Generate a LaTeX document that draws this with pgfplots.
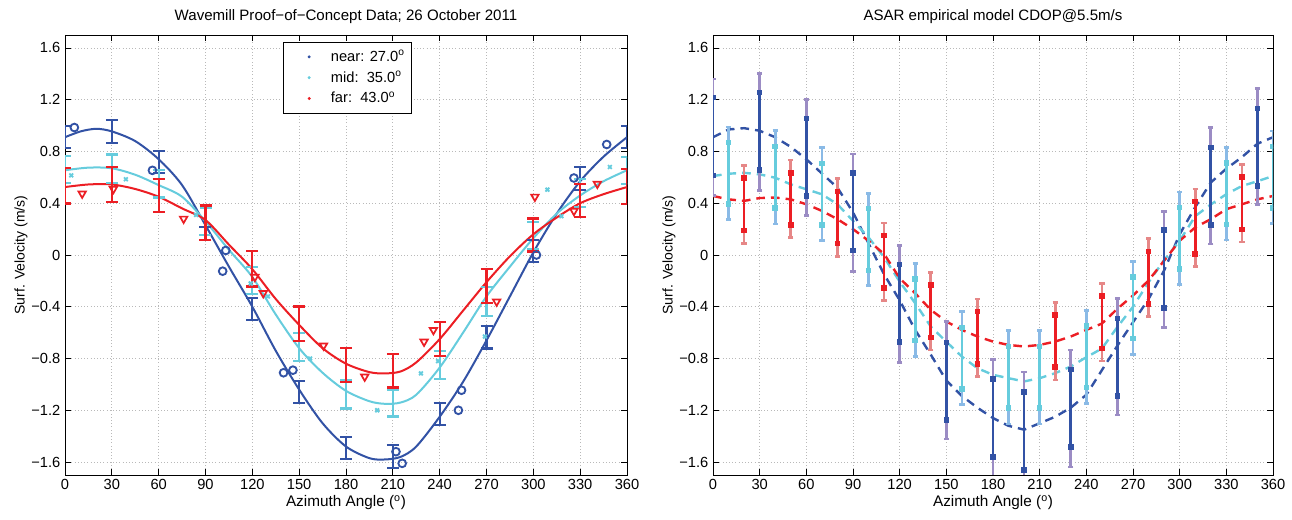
\documentclass[border=0pt]{standalone}
\usepackage{fontspec}
\setmainfont{Liberation Sans}
\usepackage{pgfplots}
\pgfplotsset{compat=1.18}
\definecolor{cnear}{RGB}{50,82,165}
\definecolor{cmid}{RGB}{102,204,221}
\definecolor{cfar}{RGB}{236,30,36}
\definecolor{cnearo}{RGB}{155,140,196}
\definecolor{cmido}{RGB}{138,186,230}
\definecolor{cfaro}{RGB}{230,135,135}
\definecolor{gridc}{RGB}{185,185,185}

\pgfplotsset{
  mat/.style={
    scale only axis, height=330pt,
    xmin=0, xmax=360, ymin=-1.7, ymax=1.7,
    xtick={0,30,...,360},
    ytick={-1.6,-1.2,-0.8,-0.4,0,0.4,0.8,1.2,1.6},
    yticklabels={−1.6,−1.2,−0.8,−0.4,0,0.4,0.8,1.2,1.6},
    xticklabel style={/pgf/number format/assume math mode=true},
    tick label style={font=\fontsize{11}{13}\selectfont},
    tick align=inside, major tick length=4.5pt,
    tick style={black, line width=0.6pt},
    axis line style={black, line width=0.7pt},
    grid=major, major grid style={gridc, dotted, line width=0.6pt},
    xlabel={Azimuth Angle (\textsuperscript{o})},
    ylabel={Surf. Velocity (m/s)},
    xlabel style={font=\fontsize{11.5}{13}\selectfont, yshift=3pt},
    ylabel style={font=\fontsize{10.5}{12}\selectfont, yshift=-4pt},
    title style={font=\fontsize{11.3}{13}\selectfont, yshift=-1pt},
    clip=true,
  },
  ebar/.style n args={4}{draw=none, mark=none, forget plot,
    error bars/.cd, y dir=both, y explicit, error mark=#2,
    error mark options={draw=#1, fill=#1, line width=#4, mark size=#3, rotate=90},
    error bar style={draw=#1, line width=#4, solid}},
}

\begin{document}
\begin{tikzpicture}
\useasboundingbox (0,0) rectangle (969pt,390pt);

% ---------------- Left panel ----------------
\begin{axis}[mat, width=421.5pt, at={(48.75pt,33.75pt)}, anchor=south west,
  title={Wavemill Proof−of−Concept Data; 26 October 2011},
  legend style={at={(0.388,0.984)}, anchor=north west, draw=black, line width=0.6pt,
    fill=white, font=\fontsize{11}{13}\selectfont, row sep=2pt,
    inner xsep=3pt, inner ysep=4pt},
  legend image code/.code={\path (0pt,0pt) (30pt,0pt); \draw[#1] plot coordinates {(16pt,0pt)};},
  legend cell align=left]

\addlegendimage{only marks, mark=*, mark size=0.8pt, cnear}
\addlegendentry{near: 27.0\textsuperscript{o}}
\addlegendimage{only marks, mark=*, mark size=0.8pt, cmid}
\addlegendentry{mid:~~35.0\textsuperscript{o}}
\addlegendimage{only marks, mark=*, mark size=0.8pt, cfar}
\addlegendentry{far:~~43.0\textsuperscript{o}}

% fitted curves
\addplot[cnear, line width=1.5pt, smooth, forget plot] coordinates {
(0,0.91)(10,0.955)(20,0.975)(30,0.955)(45,0.88)(60,0.74)(75,0.54)(90,0.23)
(105,-0.09)(120,-0.40)(135,-0.74)(150,-1.04)(165,-1.30)(180,-1.48)(195,-1.57)
(205,-1.58)(215,-1.56)(225,-1.48)(240,-1.25)(255,-0.98)(270,-0.66)(285,-0.32)
(300,0.02)(315,0.32)(330,0.57)(345,0.76)(360,0.91)};
\addplot[cmid, line width=1.5pt, smooth, forget plot] coordinates {
(0,0.655)(15,0.675)(30,0.67)(45,0.62)(60,0.54)(75,0.45)(90,0.26)(105,0.04)
(120,-0.17)(135,-0.46)(150,-0.72)(165,-0.91)(180,-1.05)(195,-1.13)(205,-1.15)
(215,-1.14)(225,-1.08)(240,-0.87)(255,-0.60)(270,-0.32)(285,-0.09)(300,0.13)
(315,0.32)(330,0.46)(345,0.57)(360,0.655)};
\addplot[cfar, line width=1.5pt, smooth, forget plot] coordinates {
(0,0.525)(15,0.545)(30,0.545)(45,0.51)(60,0.45)(75,0.36)(90,0.27)(105,0.08)
(120,-0.11)(135,-0.34)(150,-0.54)(165,-0.72)(180,-0.84)(195,-0.905)(205,-0.915)
(215,-0.90)(225,-0.83)(240,-0.65)(255,-0.43)(270,-0.21)(285,-0.01)(300,0.16)
(315,0.29)(330,0.40)(345,0.47)(360,0.525)};

% error bars
\addplot[ebar={cnear}{-}{4.5pt}{1.7pt}] table[x=x, y=y, y error=e] {
x y e
0 0.91 0.085
30 0.955 0.09
60 0.72 0.085
90 0.30 0.085
120 -0.42 0.085
150 -1.06 0.086
180 -1.49 0.085
210 -1.556 0.09
240 -1.23 0.085
270 -0.635 0.088
300 0.03 0.085
330 0.59 0.09
360 0.91 0.085
};
\addplot[ebar={cmid}{-}{4.5pt}{1.7pt}] table[x=x, y=y, y error=e] {
x y e
0 0.66 0.105
30 0.667 0.11
60 0.55 0.105
90 0.26 0.107
120 -0.195 0.105
150 -0.71 0.11
180 -1.076 0.11
210 -1.146 0.103
240 -0.85 0.11
270 -0.36 0.11
300 0.15 0.107
330 0.48 0.11
360 0.655 0.105
};
\addplot[ebar={cfar}{-}{4.5pt}{1.7pt}] table[x=x, y=y, y error=e] {
x y e
0 0.535 0.137
30 0.545 0.135
60 0.46 0.13
90 0.25 0.132
120 -0.105 0.138
150 -0.53 0.133
180 -0.85 0.13
210 -0.895 0.128
240 -0.65 0.132
270 -0.24 0.13
300 0.155 0.128
330 0.42 0.128
360 0.53 0.135
};

% measured points
\addplot[only marks, mark=o, mark size=2.9pt, cnear, line width=1.4pt, forget plot] coordinates {
(6,0.985)(56,0.654)(101,-0.125)(103,0.035)(140,-0.91)(146,-0.89)(212,-1.52)
(216,-1.61)(252,-1.20)(254,-1.045)(302,0.0)(326,0.595)(347,0.854)};
\addplot[only marks, mark=x, mark size=2pt, cmid, line width=1.4pt, forget plot] coordinates {
(4,0.615)(39,0.585)(84,0.31)(119,-0.22)(130,-0.32)(157,-0.80)(200,-1.20)
(228,-0.915)(239,-0.82)(269,-0.63)(309,0.505)(318,0.30)(349,0.68)};
\addplot[only marks, mark=triangle, mark size=3.2pt, mark options={rotate=180},
  cfar, line width=1.3pt, forget plot] coordinates {
(11,0.474)(31,0.51)(76,0.28)(121.6,-0.17)(127,-0.295)(165.6,-0.70)(192,-0.94)
(230,-0.67)(236,-0.58)(276.5,-0.36)(301,0.45)(326,0.34)(341,0.55)};
\end{axis}

% ---------------- Right panel ----------------
\begin{axis}[mat, width=420pt, at={(534.75pt,33.75pt)}, anchor=south west,
  title={ASAR empirical model CDOP@5.5m/s}]

\addplot[cnear, line width=1.8pt, dash pattern=on 6.5pt off 4.5pt] coordinates {
(0,0.91)(10,0.97)(20,0.98)(30,0.96)(40,0.91)(50,0.835)(60,0.74)(70,0.63)(80,0.52)
(90,0.33)(100,0.09)(110,-0.15)(120,-0.35)(130,-0.58)(140,-0.77)(150,-0.97)
(160,-1.09)(170,-1.18)(180,-1.26)(190,-1.32)(200,-1.35)(210,-1.30)(220,-1.25)
(230,-1.18)(240,-1.08)(250,-0.89)(260,-0.70)(270,-0.52)(280,-0.34)(290,-0.12)
(300,0.16)(310,0.37)(320,0.56)(330,0.667)(340,0.756)(350,0.86)(360,0.91)};
\addplot[cmid, line width=1.8pt, dash pattern=on 6.5pt off 4.5pt] coordinates {
(0,0.61)(10,0.628)(20,0.635)(30,0.623)(40,0.597)(50,0.546)(60,0.508)(70,0.469)
(80,0.392)(90,0.264)(100,0.136)(110,-0.018)(120,-0.206)(130,-0.373)(140,-0.553)
(150,-0.67)(160,-0.785)(170,-0.875)(180,-0.926)(190,-0.952)(200,-0.977)
(210,-0.952)(220,-0.913)(230,-0.862)(240,-0.79)(250,-0.723)(260,-0.556)
(270,-0.40)(280,-0.21)(290,-0.04)(300,0.11)(310,0.30)(320,0.39)(330,0.47)
(340,0.533)(350,0.57)(360,0.61)};
\addplot[cfar, line width=1.8pt, dash pattern=on 6.5pt off 4.5pt] coordinates {
(0,0.456)(10,0.43)(20,0.418)(30,0.44)(40,0.444)(50,0.43)(60,0.392)(70,0.341)
(80,0.277)(90,0.2)(100,0.11)(110,0.008)(120,-0.18)(130,-0.296)(140,-0.424)
(150,-0.514)(160,-0.579)(170,-0.63)(180,-0.669)(190,-0.695)(200,-0.707)
(210,-0.695)(220,-0.669)(230,-0.63)(240,-0.579)(250,-0.53)(260,-0.415)
(270,-0.313)(280,-0.197)(290,-0.044)(300,0.11)(310,0.213)(320,0.277)(330,0.354)
(340,0.392)(350,0.43)(360,0.456)};

% near bars: outer then inner
\addplot[ebar={cnearo}{-}{2pt}{2pt}] table[x=x, y=y, y error=e] {
x y e
0 0.91 0.45
30 0.95 0.45
60 0.753 0.45
90 0.327 0.453
120 -0.377 0.452
150 -0.968 0.453
180 -1.26 0.45
200 -1.357 0.452
230 -1.186 0.453
260 -0.787 0.45
290 -0.112 0.45
320 0.535 0.45
350 0.837 0.448
};
\addplot[ebar={cnear}{square*}{1.05pt}{2pt}] table[x=x, y=y, y error=e] {
x y e
0 0.915 0.30
30 0.955 0.30
60 0.755 0.30
90 0.333 0.30
120 -0.373 0.30
150 -0.975 0.30
180 -1.26 0.30
200 -1.36 0.30
230 -1.183 0.30
260 -0.79 0.30
290 -0.108 0.30
320 0.532 0.30
350 0.832 0.30
};
% mid bars
\addplot[ebar={cmido}{-}{2pt}{2pt}] table[x=x, y=y, y error=e] {
x y e
10 0.63 0.358
40 0.60 0.36
70 0.47 0.36
100 0.12 0.356
130 -0.425 0.36
160 -0.795 0.358
190 -0.945 0.36
210 -0.945 0.36
240 -0.787 0.358
270 -0.41 0.358
300 0.13 0.356
330 0.473 0.358
360 0.60 0.358
};
\addplot[ebar={cmid}{square*}{1.05pt}{2pt}] table[x=x, y=y, y error=e] {
x y e
10 0.633 0.238
40 0.60 0.238
70 0.47 0.238
100 0.12 0.238
130 -0.422 0.238
160 -0.798 0.238
190 -0.945 0.238
210 -0.945 0.238
240 -0.787 0.238
270 -0.408 0.238
300 0.13 0.238
330 0.473 0.238
360 0.60 0.238
};
% far bars
\addplot[ebar={cfaro}{-}{2pt}{2pt}] table[x=x, y=y, y error=e] {
x y e
20 0.39 0.30
50 0.433 0.30
80 0.29 0.30
110 -0.052 0.30
140 -0.434 0.30
170 -0.64 0.30
220 -0.665 0.30
250 -0.52 0.30
280 -0.175 0.30
310 0.21 0.30
340 0.40 0.30
};
\addplot[ebar={cfar}{square*}{1.05pt}{2pt}] table[x=x, y=y, y error=e] {
x y e
20 0.393 0.203
50 0.433 0.202
80 0.29 0.202
110 -0.052 0.202
140 -0.434 0.202
170 -0.64 0.202
220 -0.665 0.202
250 -0.52 0.202
280 -0.175 0.202
310 0.21 0.202
340 0.40 0.202
};
\end{axis}
\end{tikzpicture}
\end{document}
